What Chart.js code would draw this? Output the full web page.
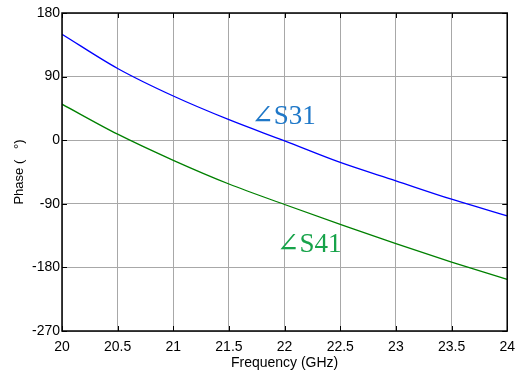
<!DOCTYPE html>
<html>
<head>
<meta charset="utf-8">
<script src="https://cdn.jsdelivr.net/npm/chart.js@4.4.1/dist/chart.umd.min.js"></script>
<style>
  html, body { margin: 0; padding: 0; background: #fff; }
  #wrap { width: 523px; height: 378px; }
</style>
</head>
<body>
<div id="wrap"><canvas id="phaseChart"></canvas></div>
<script>
// Frequency samples (GHz) and phase of each transmission path (degrees)
const freqGHz = [20, 20.5, 21, 21.5, 22, 22.5, 23, 23.5, 24];
const phaseS31 = [150, 101.5, 62.5, 29, -1, -31.5, -57.5, -83.5, -107];
const phaseS41 = [51, 8.5, -28.5, -62, -91, -119, -146.5, -172.5, -197];
const phaseTicks = [-270, -180, -90, 0, 90, 180];
const freqTicks = [20, 20.5, 21, 21.5, 22, 22.5, 23, 23.5, 24];

// Curve labels, anchored in data units
const curveLabels = [
    { text: '\u2220S31', x: 21.7, y: 23, color: '#1f78c8' },
    { text: '\u2220S41', x: 21.93, y: -158, color: '#17a34a' }
];

const toPoints = ys => freqGHz.map((f, i) => ({ x: f, y: ys[i] }));

// Frame, inward ticks on all sides and the curve labels
const framePlugin = {
    id: 'frame',
    afterDraw(chart) {
        const { ctx, chartArea: a, scales } = chart;
        ctx.save();
        ctx.strokeStyle = '#000';
        ctx.lineWidth = 1;
        ctx.beginPath();
        freqTicks.forEach(v => {
            const px = Math.round(scales.x.getPixelForValue(v)) + 0.5;
            ctx.moveTo(px, a.bottom); ctx.lineTo(px, a.bottom - 5);
            ctx.moveTo(px, a.top); ctx.lineTo(px, a.top + 5);
        });
        phaseTicks.forEach(v => {
            const py = Math.round(scales.y.getPixelForValue(v)) + 0.5;
            ctx.moveTo(a.left, py); ctx.lineTo(a.left + 5, py);
            ctx.moveTo(a.right, py); ctx.lineTo(a.right - 5, py);
        });
        ctx.stroke();
        ctx.lineWidth = 1.5;
        ctx.strokeRect(a.left, a.top, a.right - a.left, a.bottom - a.top);

        ctx.font = '27px "Liberation Serif", "DejaVu Serif", serif';
        ctx.textBaseline = 'alphabetic';
        ctx.textAlign = 'left';
        curveLabels.forEach(l => {
            ctx.fillStyle = l.color;
            ctx.fillText(l.text, scales.x.getPixelForValue(l.x), scales.y.getPixelForValue(l.y));
        });
        ctx.restore();
    }
};

const tickFont = { family: '"Liberation Sans", Arial, sans-serif', size: 14 };

new Chart(document.getElementById('phaseChart').getContext('2d'), {
    type: 'line',
    data: {
        datasets: [{
            label: 'S31',
            data: toPoints(phaseS31),
            borderColor: '#0000ff',
            borderWidth: 1.3,
            pointRadius: 0,
            cubicInterpolationMode: 'monotone'
        }, {
            label: 'S41',
            data: toPoints(phaseS41),
            borderColor: '#008000',
            borderWidth: 1.3,
            pointRadius: 0,
            cubicInterpolationMode: 'monotone'
        }]
    },
    options: {
        responsive: true,
        maintainAspectRatio: false,
        animation: false,
        layout: { padding: { top: 13, right: 12, left: 0, bottom: 0 } },
        plugins: {
            legend: { display: false },
            tooltip: { enabled: false }
        },
        scales: {
            x: {
                type: 'linear',
                min: 20,
                max: 24,
                afterBuildTicks: s => { s.ticks = freqTicks.map(v => ({ value: v })); },
                afterFit: s => { s.height = 47; },
                grid: { color: '#a8a8a8', lineWidth: 1, drawTicks: false },
                border: { display: false },
                ticks: {
                    color: '#000',
                    font: tickFont,
                    padding: 8,
                    maxRotation: 0,
                    autoSkip: false,
                    callback: v => String(v)
                },
                title: {
                    display: true,
                    text: 'Frequency (GHz)',
                    color: '#000',
                    font: tickFont,
                    padding: { top: 0, bottom: 6 }
                }
            },
            y: {
                min: -270,
                max: 180,
                afterBuildTicks: s => { s.ticks = phaseTicks.map(v => ({ value: v })); },
                afterFit: s => { s.width = 62; },
                grid: { color: '#a8a8a8', lineWidth: 1, drawTicks: false },
                border: { display: false },
                ticks: {
                    color: '#000',
                    font: tickFont,
                    padding: 2,
                    autoSkip: false
                },
                title: {
                    display: true,
                    text: 'Phase (   \u00B0)',
                    color: '#000',
                    font: { family: '"Liberation Sans", Arial, sans-serif', size: 13 },
                    padding: { top: 12, bottom: 0 }
                }
            }
        }
    },
    plugins: [framePlugin]
});
</script>
</body>
</html>
